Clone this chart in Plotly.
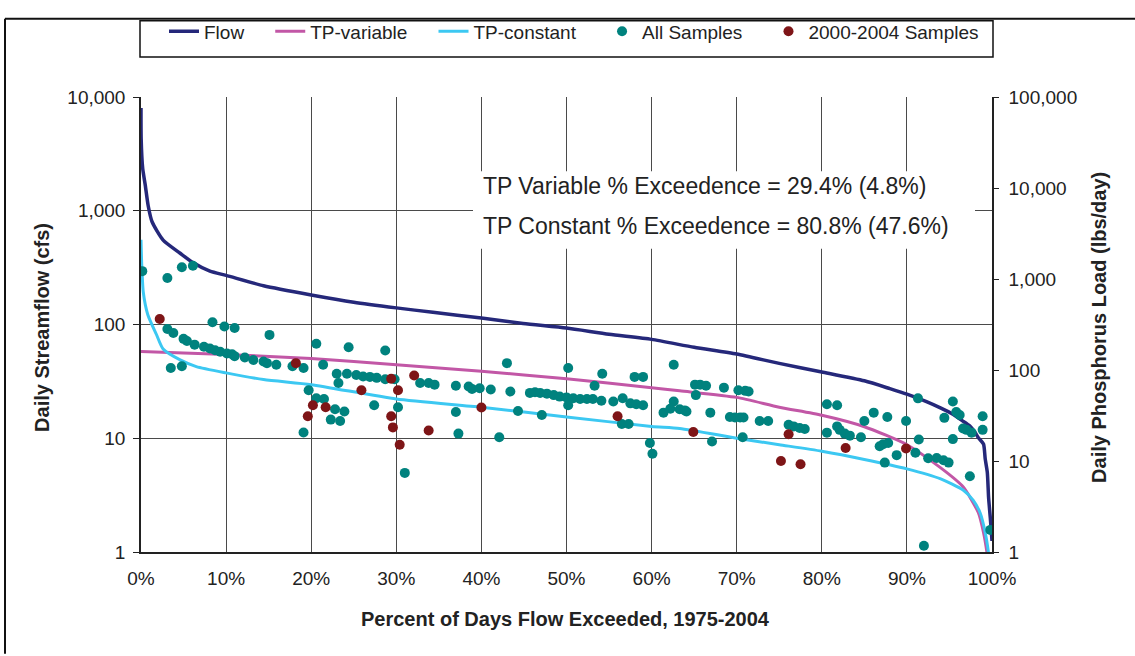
import plotly.graph_objects as go

# ---------------- data ----------------
flow_pct = [0, 0.02, 0.2, 0.5, 0.85, 1.3, 2.6, 4.6, 6.1, 8.1, 10, 14.4, 20, 25, 30, 34.3, 40, 44.9, 50, 55,
            60, 65, 70, 75, 80, 85, 88, 90, 92.3, 94, 95.5, 96.5, 97.4, 98.0, 98.4, 99.0, 99.2, 99.45, 99.6,
            99.8, 100]
flow_cfs = [8000, 4300, 2350, 1680, 1100, 800, 552, 423, 350, 294, 270, 219, 182, 157, 140, 128, 114, 102, 93, 82,
            74, 63, 55, 45.5, 38.3, 32, 27.3, 24.4, 21, 18.4, 16.1, 14.3, 12.8, 11.3, 10.1, 8.9, 6.6, 5.0, 3.0,
            2.0, 1.25]

tpv_pct = [0, 5, 10, 20, 30, 40, 50, 60, 63.3, 70, 75, 80, 85, 90, 93.9, 96.6, 98.4, 99.0, 99.4, 99.8]
tpv_load = [160, 154, 148, 134, 114, 97, 80, 64, 59, 50, 39, 31.8, 23.8, 15.1, 8.5, 5.2, 2.7, 1.64, 1.0, 0.5]

tpc_pct = [0, 0.08, 0.27, 0.8, 1.8, 2.6, 4.6, 6.5, 10, 14.4, 20, 30, 40, 50, 60, 63.3, 70, 75, 80, 85,
           90, 93.9, 96.6, 97.8, 98.6, 99.2, 99.6, 99.9]
tpc_load = [2700, 1500, 715, 405, 247, 170, 129, 109, 93, 78.5, 69, 48, 39, 30.5, 24, 22.8, 17.8, 15.1, 12.8, 10.4,
            8.2, 6.4, 4.8, 3.7, 2.7, 1.64, 0.96, 0.5]

all_pct = [0.15, 3.1, 4.8, 6.1, 8.4, 9.8, 11.0, 15.1, 20.6, 24.4, 28.7, 3.1, 3.8, 5.0, 5.4, 6.3, 7.4, 8.1, 8.7, 9.3,
           10.1, 10.7, 11.0, 12.2, 13.2, 14.4, 14.8, 15.9, 17.8, 19.1, 3.5, 4.8, 21.4, 23.0, 23.2, 24.2, 25.3, 26.1,
           26.9, 27.7, 28.7, 29.8, 32.8, 33.8, 34.5, 19.7, 20.6, 21.5, 22.8, 23.9, 27.4, 30.2, 22.3, 23.4, 19.1, 31.0,
           43.0, 50.2, 54.2, 62.6, 58.0, 59.0, 53.3, 37.0, 38.5, 38.9, 39.8, 41.1, 43.4, 45.7, 46.3, 46.9, 47.7, 48.5,
           49.2, 50.0, 50.8, 51.6, 52.4, 53.1, 54.1, 50.2, 55.5, 56.6, 57.5, 58.2, 59.0, 62.6, 61.4, 62.2, 63.3, 64.1,
           65.1, 65.2, 37.0, 37.3, 44.3, 47.1, 42.1, 56.5, 57.3, 59.8, 60.1, 65.7, 66.4, 68.5, 70.2, 71.0, 71.4, 63.9,
           66.9, 69.2, 69.8, 70.4, 70.8, 67.1, 70.7, 72.7, 73.7, 76.1, 76.7, 77.4, 78.0, 80.6, 81.8, 80.6, 81.8, 82.1,
           82.7, 83.3, 84.6, 85.0, 86.1, 87.7, 89.9, 86.8, 87.2, 87.8, 87.4, 88.8, 91.0, 92.5, 93.5, 94.3, 94.9, 91.4,
           91.3, 94.4, 95.4, 95.8, 96.2, 96.6, 97.0, 97.6, 95.4, 98.9, 98.9, 97.4, 99.8, 92.0]
all_load = [1220, 1025, 1345, 1400, 335, 300, 290, 243, 194, 178, 164, 282, 255, 220, 208, 190, 180, 172, 165, 159,
            152, 149, 142, 137, 129, 124, 119, 114, 110, 105, 105, 110, 114, 91, 72, 91, 88, 85,
            84, 82, 79, 79, 72, 72, 69, 60, 49, 48, 37, 35, 41, 39, 28.5, 27.5, 20.6, 7.4,
            119, 105, 91, 114, 84, 84, 67, 67, 66, 62, 63, 61, 58, 56, 57, 56, 55, 53,
            51, 50, 49, 48, 48, 48, 46, 41, 45, 49, 43, 42, 41, 45, 34, 37.5, 37, 35,
            69, 53, 34.5, 20, 35.5, 32, 18.2, 25.5, 25.5, 15.8, 12, 69, 67, 64, 60, 59, 58, 36,
            34, 30.5, 30, 30, 30, 16.4, 18.2, 27.5, 27.5, 25, 24, 23, 22.5, 42, 41, 20.5, 24, 22,
            20, 19, 18.2, 27.5, 34, 30.5, 27.5, 14.5, 15.3, 15.8, 9.6, 11.6, 12.3, 10.7, 10.8, 10.2, 9.6, 17.2,
            48.8, 29.8, 45, 34.5, 32, 22.8, 22, 20.5, 17.4, 31, 22, 6.8, 1.75, 1.17]

recent_pct = [2.2, 18.2, 29.4, 32.1, 25.9, 30.2, 20.2, 21.7, 19.6, 29.4, 29.6, 33.8, 30.4, 40.0, 56.0, 64.9,
              76.1, 75.2, 77.5, 82.8, 89.9]
recent_load = [363, 119, 80, 87, 60, 60, 41, 39, 31, 31, 23.4, 21.6, 15.1, 38.7, 31, 20.8,
               19.7, 10, 9.2, 13.9, 13.7]

x_ticks = list(range(0, 101, 10))
x_ticktext = [f"{v}%" for v in x_ticks]
left_ticks = [1, 10, 100, 1000, 10000]
left_ticktext = ["1", "10", "100", "1,000", "10,000"]
right_ticks = [1, 10, 100, 1000, 10000, 100000]
right_ticktext = ["1", "10", "100", "1,000", "10,000", "100,000"]

series_names = ["Flow", "TP-variable", "TP-constant", "All Samples", "2000-2004 Samples"]
note_lines = ["TP Variable % Exceedence = 29.4% (4.8%)", "TP Constant % Exceedence = 80.8% (47.6%)"]
x_title = "Percent of Days Flow Exceeded, 1975-2004"
y_title = "Daily Streamflow (cfs)"
y2_title = "Daily Phosphorus Load (lbs/day)"

# ---------------- figure ----------------
FONT = "Liberation Sans, Arial, sans-serif"
pad = "\u00a0" * 4

fig = go.Figure()
fig.add_trace(go.Scatter(x=flow_pct, y=flow_cfs, mode="lines", name=series_names[0] + pad,
                         line=dict(color="#25287a", width=3.5, shape="spline", smoothing=0.6), yaxis="y"))
fig.add_trace(go.Scatter(x=tpv_pct, y=tpv_load, mode="lines", name=series_names[1] + pad,
                         line=dict(color="#c257a6", width=3, shape="spline", smoothing=0.6), yaxis="y2"))
fig.add_trace(go.Scatter(x=tpc_pct, y=tpc_load, mode="lines", name=series_names[2] + pad,
                         line=dict(color="#3cc8f2", width=3, shape="spline", smoothing=0.6), yaxis="y2"))
fig.add_trace(go.Scatter(x=all_pct, y=all_load, mode="markers", name=series_names[3] + pad,
                         marker=dict(color="#00827e", size=10), yaxis="y2"))
fig.add_trace(go.Scatter(x=recent_pct, y=recent_load, mode="markers", name=series_names[4],
                         marker=dict(color="#7e1517", size=10), yaxis="y2"))

L, R, T, B = 141, 143, 87, 104
W, H = 1135, 656
pw, ph = W - L - R, H - T - B


def px(xp):
    return (xp - L) / pw


def py(yp):
    return (H - B - yp) / ph


grid = "#4a4a4a"
fig.update_layout(
    width=W, height=H,
    margin=dict(l=L, r=R, t=T, b=B),
    plot_bgcolor="white", paper_bgcolor="white",
    font=dict(family=FONT, color="#222", size=19),
    showlegend=True,
    legend=dict(orientation="h", x=px(164), xanchor="left", y=py(20), yanchor="middle",
                bgcolor="rgba(0,0,0,0)", borderwidth=0, font=dict(size=19, family=FONT, color="#222")),
    xaxis=dict(range=[0, 100], tickvals=x_ticks, ticktext=x_ticktext, showgrid=True, gridcolor=grid,
               gridwidth=1, showline=True, linecolor="#222", linewidth=1.5, ticks="outside", ticklen=8,
               tickcolor="rgba(0,0,0,0)", zeroline=False, tickfont=dict(size=19)),
    yaxis=dict(type="log", range=[0, 4], tickvals=left_ticks, ticktext=left_ticktext, showgrid=True,
               gridcolor=grid, gridwidth=1, showline=True, linecolor="#222", linewidth=1.5,
               ticks="outside", ticklen=6, tickcolor="#222", zeroline=False, tickfont=dict(size=19),
               ticklabelstandoff=4),
    yaxis2=dict(type="log", range=[0, 5], tickvals=right_ticks, ticktext=right_ticktext, overlaying="y",
                side="right", anchor="x", showgrid=False, showline=True, linecolor="#222", linewidth=1.5,
                ticks="outside", ticklen=5, tickcolor="#222", zeroline=False, tickfont=dict(size=19),
                ticklabelstandoff=6),
)

shapes = [
    # white box behind the exceedence notes
    dict(type="rect", xref="paper", yref="paper", x0=px(473), x1=px(975), y0=py(242), y1=py(163),
         fillcolor="white", line=dict(width=0), layer="above"),
    # legend frame
    dict(type="rect", xref="paper", yref="paper", x0=px(140), x1=px(993), y0=py(46), y1=py(9),
         line=dict(color="#111", width=1.5), fillcolor="rgba(0,0,0,0)"),
    # outer frame (top and left edges)
    dict(type="line", xref="paper", yref="paper", x0=px(5), x1=px(1135), y0=py(7), y1=py(7),
         line=dict(color="#111", width=2)),
    dict(type="line", xref="paper", yref="paper", x0=px(5), x1=px(5), y0=py(7), y1=py(656),
         line=dict(color="#111", width=2)),
]
fig.update_layout(shapes=shapes)

annotations = [
    dict(text=note_lines[0], xref="paper", yref="paper", x=px(481), y=py(178), xanchor="left",
         yanchor="middle", showarrow=False, font=dict(size=23, family=FONT, color="#222")),
    dict(text=note_lines[1], xref="paper", yref="paper", x=px(481), y=py(219), xanchor="left",
         yanchor="middle", showarrow=False, font=dict(size=23, family=FONT, color="#222")),
    dict(text="<b>" + x_title + "</b>", xref="paper", yref="paper", x=px(565), y=py(620),
         xanchor="center", yanchor="middle", showarrow=False, font=dict(size=20, family=FONT, color="#222")),
    dict(text="<b>" + y_title + "</b>", xref="paper", yref="paper", x=px(42), y=py(323),
         xanchor="center", yanchor="middle", textangle=-90, showarrow=False,
         font=dict(size=20, family=FONT, color="#222")),
    dict(text="<b>" + y2_title + "</b>", xref="paper", yref="paper", x=px(1099), y=py(323),
         xanchor="center", yanchor="middle", textangle=-90, showarrow=False,
         font=dict(size=20, family=FONT, color="#222")),
]
fig.update_layout(annotations=annotations)

fig.write_html("out.html", config={"displayModeBar": False},
               post_script="document.body.style.margin='0px';")
